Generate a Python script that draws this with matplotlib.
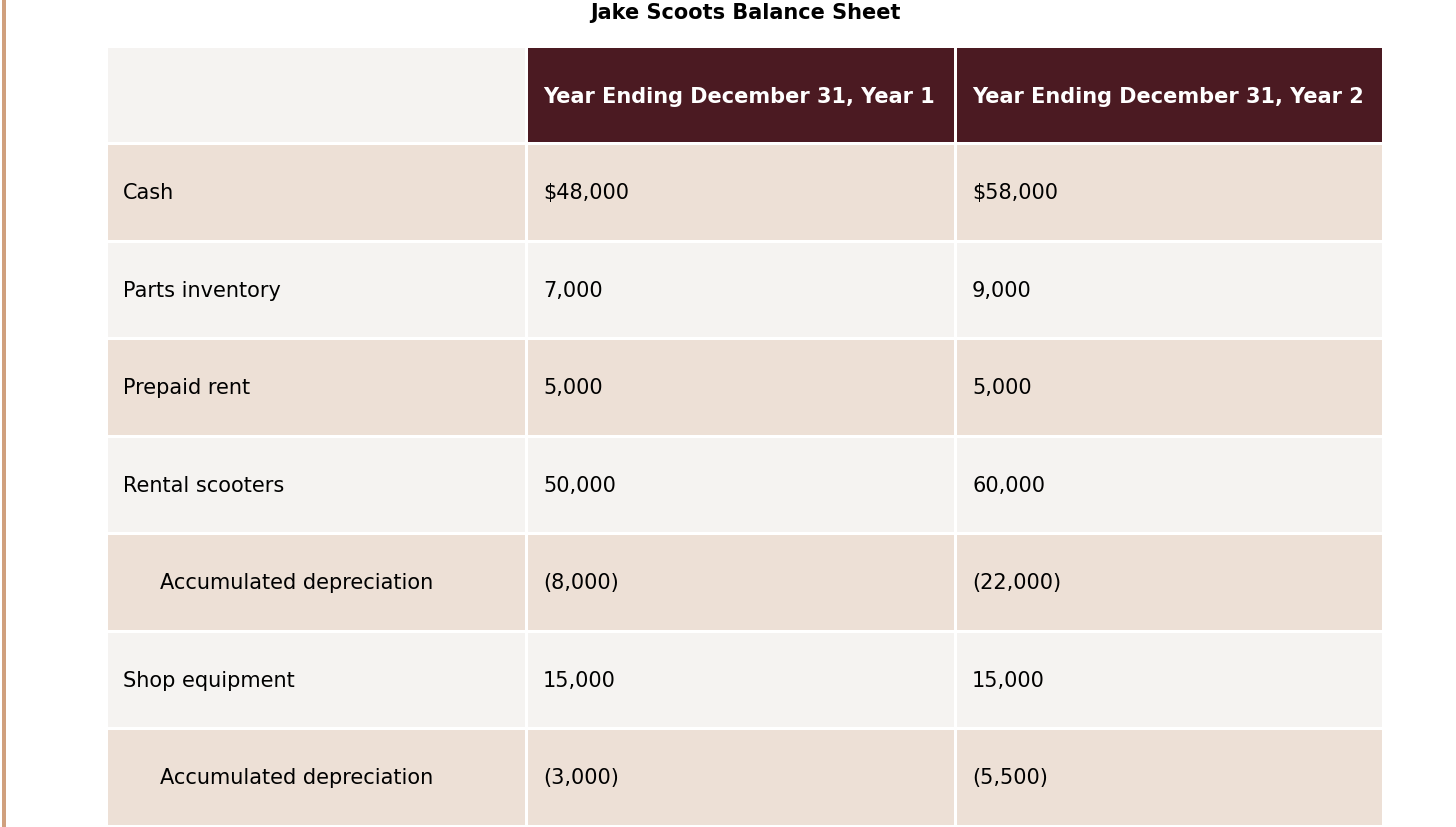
import matplotlib.pyplot as plt
from matplotlib.patches import Rectangle

title = "Jake Scoots Balance Sheet"
col_headers = ["Year Ending December 31, Year 1", "Year Ending December 31, Year 2"]
row_labels = ["Cash", "Parts inventory", "Prepaid rent", "Rental scooters",
              "Accumulated depreciation", "Shop equipment", "Accumulated depreciation"]
indented = [False, False, False, False, True, False, True]
year1 = ["$48,000", "7,000", "5,000", "50,000", "(8,000)", "15,000", "(3,000)"]
year2 = ["$58,000", "9,000", "5,000", "60,000", "(22,000)", "15,000", "(5,500)"]

# layout in pixels
W, H = 1456, 828
col_x = [(108, 525), (528, 954), (957, 1382)]
header_y = (49, 143)
row_top0, row_pitch, row_h = 146, 97.5, 94.8
FS = 15

HEAD = "#4b1a22"
LIGHT = "#f5f3f1"
TAN = "#ede0d6"
BAR = "#d0a07e"

fig = plt.figure(figsize=(W / 100, H / 100), dpi=100)
ax = fig.add_axes([0, 0, 1, 1])
ax.set_xlim(0, W)
ax.set_ylim(H, 0)
ax.axis("off")

ax.add_patch(Rectangle((2, 0), 4, H, color=BAR, lw=0))
ax.text(745, 13, title, ha="center", va="center", fontsize=FS, fontweight="bold")

# header row
for i, (x0, x1) in enumerate(col_x):
    c = LIGHT if i == 0 else HEAD
    ax.add_patch(Rectangle((x0, header_y[0]), x1 - x0, header_y[1] - header_y[0], color=c, lw=0))
    if i > 0:
        ax.text(x0 + 15, (header_y[0] + header_y[1]) / 2 + 1, col_headers[i - 1],
                ha="left", va="center", fontsize=FS, fontweight="bold", color="white")

# body rows
for r, lab in enumerate(row_labels):
    y0 = row_top0 + r * row_pitch
    c = TAN if r % 2 == 0 else LIGHT
    for x0, x1 in col_x:
        ax.add_patch(Rectangle((x0, y0), x1 - x0, row_h, color=c, lw=0))
    yc = y0 + row_h / 2
    ax.text(col_x[0][0] + (52 if indented[r] else 15), yc, lab,
            ha="left", va="center", fontsize=FS, color="black")
    ax.text(col_x[1][0] + 15, yc, year1[r], ha="left", va="center", fontsize=FS)
    ax.text(col_x[2][0] + 15, yc, year2[r], ha="left", va="center", fontsize=FS)

fig.savefig("out.png", dpi=100, facecolor="white")
